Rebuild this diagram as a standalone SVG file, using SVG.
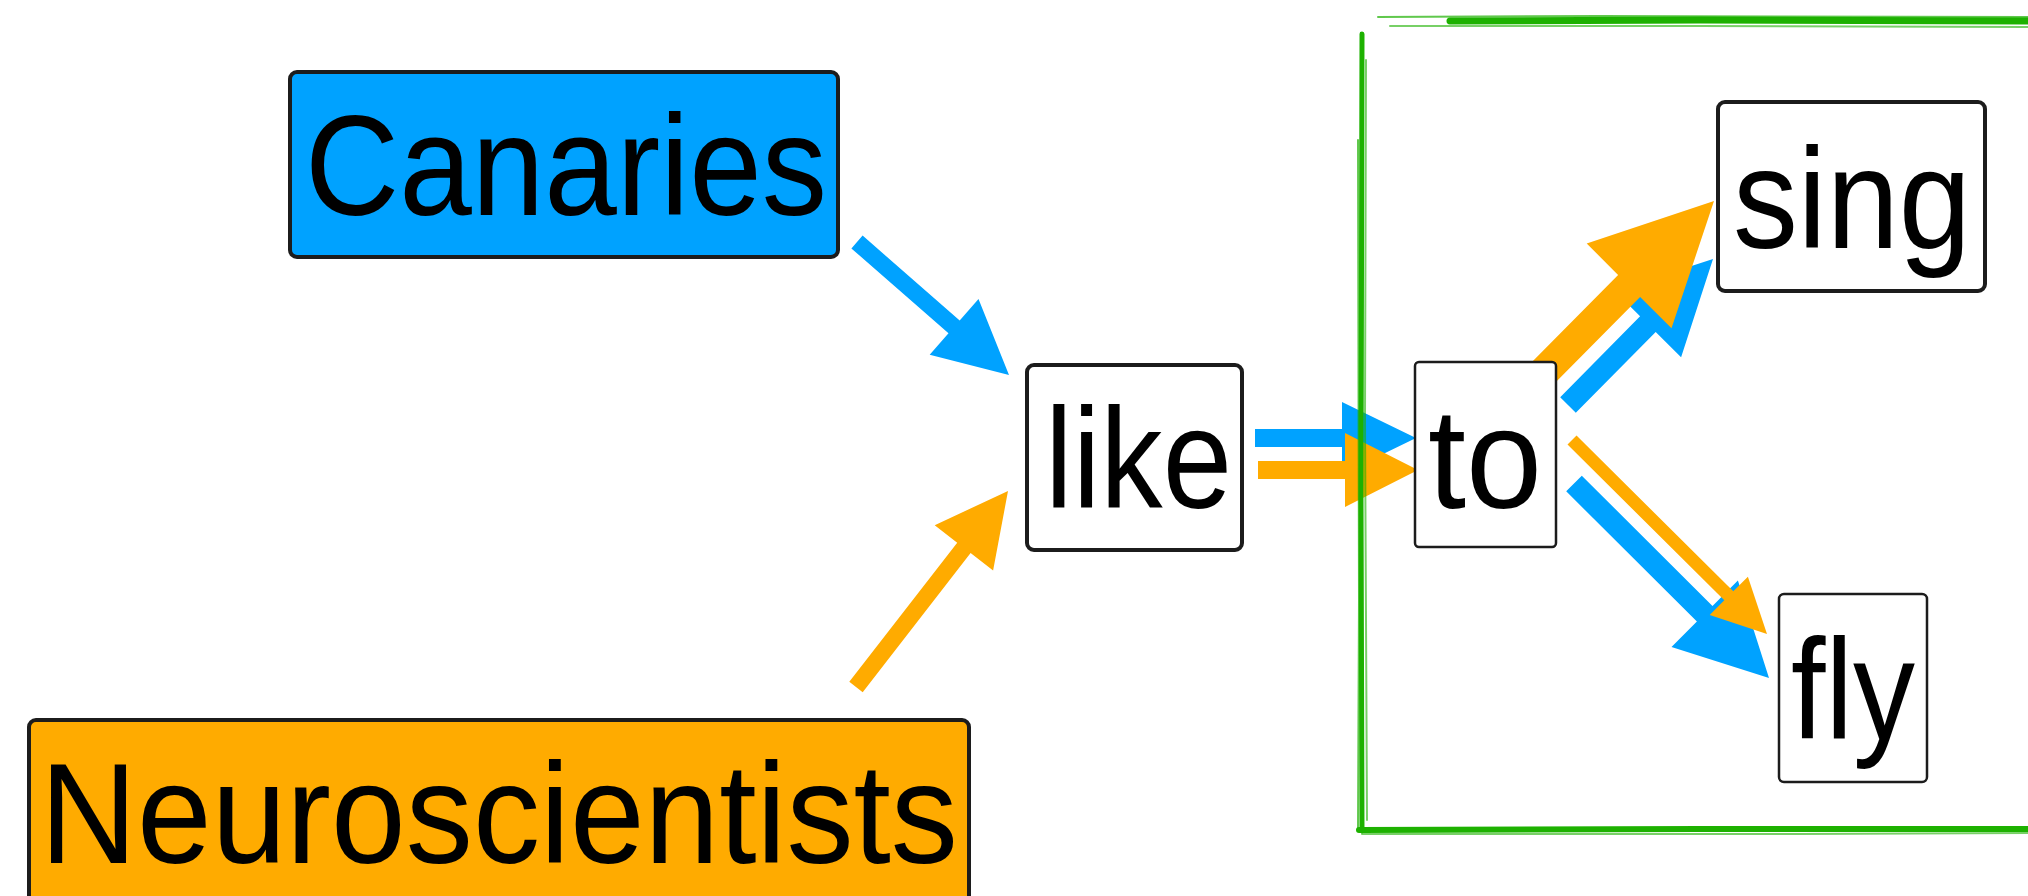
<svg xmlns="http://www.w3.org/2000/svg" width="2028" height="896" viewBox="0 0 2028 896">
<style>
.box{stroke:#1c1c1c;stroke-width:4;stroke-linejoin:round}
.thin{stroke-width:2.5}
.lbl{font-family:"Liberation Sans",Arial,Helvetica,sans-serif;font-size:142px;fill:#000}
.blue{fill:#00A2FF}
.orange{fill:#FFAB00}
.g{fill:none;stroke:#1DB100;stroke-linecap:round}
</style>
<rect width="2028" height="896" fill="#fff"/>
<g id="connectors">
<polygon class="blue" points="862.6,235.6 959.7,320.5 978.5,299.1 1009,375 929.7,354.7 948.5,333.3 851.4,248.4"/>
<polygon class="orange" points="862.7,692.2 970.6,553.1 993.1,570.6 1008,491 934.7,525.2 957.2,542.7 849.3,681.8"/>
<polygon class="blue" points="1255,429 1342,429 1342,402 1416,438 1342,474 1342,447 1255,447"/>
<polygon class="orange" points="1258,461 1345,461 1345,433 1418,470 1345,507 1345,479 1258,479"/>
<polygon class="blue" points="1575.8,412.8 1655.7,331.9 1681.1,357.3 1713,259 1614.7,290.9 1640.1,316.3 1560.2,397.2"/>
<polygon class="orange" points="1547,391 1640.1,296.9 1671.5,328.3 1714,201 1586.7,243.5 1618.1,274.9 1525,369"/>
<polygon class="blue" points="1581.8,475.7 1712.5,605.9 1737.9,580.5 1769,678 1671.5,646.9 1696.9,621.5 1566.2,491.3"/>
<polygon class="orange" points="1576.5,435.5 1733.3,591.3 1747.9,576.7 1767,634 1709.7,614.9 1724.3,600.3 1567.5,444.5"/>
</g>
<g id="frame">
<path class="g" stroke-width="5" d="M1362,34 L1361,500 L1362,831"/>
<path class="g" stroke-width="2" opacity="0.7" d="M1358,140 L1359,600 L1358,830"/>
<path class="g" stroke-width="2" opacity="0.6" d="M1366,60 L1365,420 L1367,820"/>
<path class="g" stroke-width="7" d="M1450,21 L1700,20 L2028,21"/>
<path class="g" stroke-width="2" opacity="0.7" d="M1378,17 L1600,16 L2028,17"/>
<path class="g" stroke-width="2" opacity="0.6" d="M1390,26 L1700,26 L2028,27"/>
<path class="g" stroke-width="6" d="M1359,830 L1700,829 L2028,829"/>
<path class="g" stroke-width="2" opacity="0.6" d="M1362,834 L1800,834 L2028,833"/>
</g>
<g id="node-canaries">
<rect class="box" x="290" y="72" width="548" height="185" rx="7" fill="#00A2FF"/>
<text class="lbl" x="305" y="215" textLength="522" lengthAdjust="spacingAndGlyphs">Canaries</text>
</g>
<g id="node-neuroscientists">
<rect class="box" x="29" y="720" width="940" height="200" rx="7" fill="#FFAB00"/>
<text class="lbl" x="40" y="863" textLength="918" lengthAdjust="spacingAndGlyphs">Neuroscientists</text>
</g>
<g id="node-like">
<rect class="box" x="1027" y="365" width="215" height="185" rx="7" fill="#fff"/>
<text class="lbl" x="1045" y="508" textLength="187" lengthAdjust="spacingAndGlyphs">like</text>
</g>
<g id="node-to">
<rect class="box thin" x="1415" y="362" width="141" height="185" rx="4" fill="#fff"/>
<text class="lbl" x="1428" y="508" textLength="114" lengthAdjust="spacingAndGlyphs">to</text>
</g>
<g id="node-sing">
<rect class="box" x="1718" y="102" width="267" height="189" rx="7" fill="#fff"/>
<text class="lbl" x="1733" y="248" textLength="238" lengthAdjust="spacingAndGlyphs">sing</text>
</g>
<g id="node-fly">
<rect class="box thin" x="1779" y="594" width="148" height="188" rx="5" fill="#fff"/>
<text class="lbl" x="1791" y="739" textLength="124" lengthAdjust="spacingAndGlyphs">fly</text>
</g>
</svg>
